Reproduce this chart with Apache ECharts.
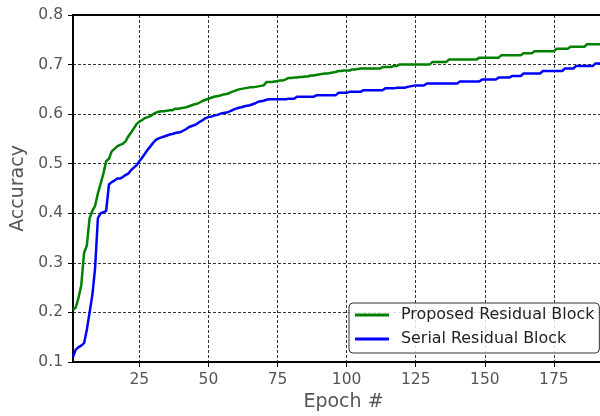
<!DOCTYPE html>
<html>
<head>
<meta charset="utf-8">
<script src="https://cdn.jsdelivr.net/npm/echarts@6/dist/echarts.min.js"></script>
<style>
  html, body { margin: 0; padding: 0; background: #fff; }
  #chart { width: 600px; height: 416px; }
</style>
</head>
<body>
<div id="chart"></div>
<script>
// Best validation accuracy per epoch (epochs 1..200)
const proposedAcc = [
  0.205, 0.210, 0.230, 0.255, 0.320, 0.335, 0.390, 0.405, 0.415, 0.440,
  0.460, 0.480, 0.505, 0.510, 0.525, 0.530, 0.535, 0.538, 0.540, 0.545,
  0.555, 0.563, 0.571, 0.580, 0.585, 0.588, 0.592, 0.594, 0.596, 0.600,
  0.603, 0.605, 0.606, 0.606, 0.607, 0.608, 0.608, 0.611, 0.611, 0.612,
  0.613, 0.614, 0.616, 0.618, 0.620, 0.621, 0.624, 0.627, 0.629, 0.631,
  0.633, 0.635, 0.636, 0.637, 0.639, 0.640, 0.641, 0.644, 0.646, 0.648,
  0.650, 0.651, 0.652, 0.653, 0.654, 0.654, 0.655, 0.656, 0.657, 0.658,
  0.665, 0.665, 0.665, 0.666, 0.667, 0.668, 0.668, 0.670, 0.673, 0.673,
  0.674, 0.674, 0.675, 0.675, 0.676, 0.676, 0.678, 0.678, 0.679, 0.680,
  0.681, 0.682, 0.682, 0.683, 0.684, 0.685, 0.687, 0.687, 0.688, 0.688,
  0.688, 0.690, 0.690, 0.691, 0.692, 0.692, 0.692, 0.692, 0.692, 0.692,
  0.692, 0.692, 0.695, 0.695, 0.695, 0.695, 0.697, 0.697, 0.700, 0.700,
  0.700, 0.700, 0.700, 0.700, 0.700, 0.700, 0.700, 0.700, 0.700, 0.700,
  0.705, 0.705, 0.705, 0.705, 0.705, 0.705, 0.710, 0.710, 0.710, 0.710,
  0.710, 0.710, 0.710, 0.710, 0.710, 0.710, 0.710, 0.714, 0.714, 0.714,
  0.714, 0.714, 0.714, 0.714, 0.714, 0.719, 0.719, 0.719, 0.719, 0.719,
  0.719, 0.719, 0.719, 0.723, 0.723, 0.723, 0.723, 0.727, 0.727, 0.727,
  0.727, 0.727, 0.727, 0.727, 0.727, 0.732, 0.732, 0.732, 0.732, 0.732,
  0.736, 0.736, 0.736, 0.736, 0.736, 0.736, 0.741, 0.741, 0.741, 0.741,
  0.741, 0.741, 0.741, 0.741, 0.741, 0.741, 0.741, 0.741, 0.741, 0.741
];

const serialAcc = [
  0.110, 0.125, 0.130, 0.133, 0.138, 0.165, 0.200, 0.235, 0.290, 0.390,
  0.400, 0.402, 0.405, 0.458, 0.463, 0.466, 0.470, 0.470, 0.473, 0.477,
  0.480, 0.487, 0.492, 0.497, 0.505, 0.512, 0.520, 0.528, 0.535, 0.542,
  0.548, 0.551, 0.553, 0.555, 0.557, 0.559, 0.560, 0.562, 0.563, 0.564,
  0.567, 0.570, 0.574, 0.576, 0.578, 0.581, 0.585, 0.588, 0.592, 0.594,
  0.595, 0.597, 0.598, 0.600, 0.602, 0.603, 0.604, 0.606, 0.609, 0.611,
  0.613, 0.614, 0.616, 0.617, 0.618, 0.620, 0.622, 0.625, 0.626, 0.627,
  0.629, 0.630, 0.630, 0.630, 0.630, 0.630, 0.630, 0.630, 0.631, 0.631,
  0.631, 0.635, 0.635, 0.635, 0.635, 0.635, 0.635, 0.635, 0.638, 0.638,
  0.638, 0.638, 0.638, 0.638, 0.638, 0.638, 0.643, 0.643, 0.643, 0.643,
  0.645, 0.645, 0.645, 0.645, 0.645, 0.648, 0.648, 0.648, 0.648, 0.648,
  0.648, 0.648, 0.648, 0.652, 0.652, 0.652, 0.652, 0.653, 0.653, 0.653,
  0.653, 0.655, 0.656, 0.657, 0.658, 0.658, 0.658, 0.658, 0.662, 0.662,
  0.662, 0.662, 0.662, 0.662, 0.662, 0.662, 0.662, 0.662, 0.662, 0.662,
  0.666, 0.666, 0.666, 0.666, 0.666, 0.666, 0.666, 0.666, 0.670, 0.670,
  0.670, 0.670, 0.670, 0.670, 0.674, 0.674, 0.674, 0.674, 0.674, 0.677,
  0.677, 0.677, 0.677, 0.682, 0.682, 0.682, 0.682, 0.682, 0.682, 0.682,
  0.687, 0.687, 0.687, 0.687, 0.687, 0.687, 0.687, 0.687, 0.692, 0.692,
  0.692, 0.692, 0.697, 0.697, 0.697, 0.697, 0.697, 0.697, 0.697, 0.702,
  0.702, 0.702, 0.702, 0.702, 0.702, 0.702, 0.702, 0.702, 0.702, 0.702
];

const seriesNames = ['Proposed Residual Block', 'Serial Residual Block'];
const epochTicks = [25, 50, 75, 100, 125, 150, 175];
const axisNames = { x: 'Epoch #', y: 'Accuracy' };

const toPairs = arr => arr.map((v, i) => [i + 1, v]);

const FONT = 'DejaVu Sans';
const chart = echarts.init(document.getElementById('chart'), null, { renderer: 'canvas' });

chart.setOption({
  animation: false,
  backgroundColor: '#fff',
  // plot box runs past the right edge of the canvas
  grid: {
    left: 73, top: 15, width: 550, bottom: 54,
    outerBoundsMode: 'none', containLabel: false,
    show: true, borderColor: '#000', borderWidth: 2, backgroundColor: 'transparent'
  },
  legend: {
    orient: 'vertical',
    left: 349, top: 303,
    padding: [4, 5, 6, 6],
    itemGap: 8,
    itemWidth: 34, itemHeight: 3,
    icon: 'rect',
    backgroundColor: 'rgba(255,255,255,0.85)',
    borderColor: '#333', borderWidth: 1, borderRadius: 4,
    textStyle: { fontFamily: FONT, fontSize: 15.9, color: '#222', lineHeight: 16, padding: [0, 0, 0, 7] },
    data: seriesNames
  },
  xAxis: {
    type: 'value', min: 1, max: 200,
    name: axisNames.x, nameLocation: 'middle', nameGap: 31,
    nameTextStyle: { fontFamily: FONT, fontSize: 19, color: '#555', padding: [0, 9, 0, 0] },
    axisLine: { show: true, lineStyle: { color: '#000', width: 2 } },
    axisTick: { show: true, inside: false, length: 5, lineStyle: { color: '#000', width: 1 }, customValues: epochTicks },
    axisLabel: { fontFamily: FONT, fontSize: 15.5, color: '#555', margin: 10, customValues: epochTicks },
    splitLine: { show: true, lineStyle: { color: '#000', width: 0.8, type: [3, 2] } }
  },
  yAxis: {
    type: 'value', min: 0.1, max: 0.8, interval: 0.1,
    name: axisNames.y, nameLocation: 'middle', nameGap: 43,
    nameTextStyle: { fontFamily: FONT, fontSize: 19, color: '#555' },
    axisLine: { show: true, lineStyle: { color: '#000', width: 2 } },
    axisTick: { show: true, inside: false, length: 5, lineStyle: { color: '#000', width: 1 } },
    axisLabel: { fontFamily: FONT, fontSize: 15.5, color: '#555', margin: 10, formatter: v => v.toFixed(1) },
    splitLine: { show: true, lineStyle: { color: '#000', width: 0.8, type: [3, 2] } }
  },
  series: [
    {
      name: seriesNames[0], type: 'line', data: toPairs(proposedAcc),
      showSymbol: false, symbol: 'none', color: '#008000',
      lineStyle: { color: '#008000', width: 2.5 }, z: 3
    },
    {
      name: seriesNames[1], type: 'line', data: toPairs(serialAcc),
      showSymbol: false, symbol: 'none', color: '#0000ff',
      lineStyle: { color: '#0000ff', width: 2.5 }, z: 3
    }
  ]
});
</script>
</body>
</html>
